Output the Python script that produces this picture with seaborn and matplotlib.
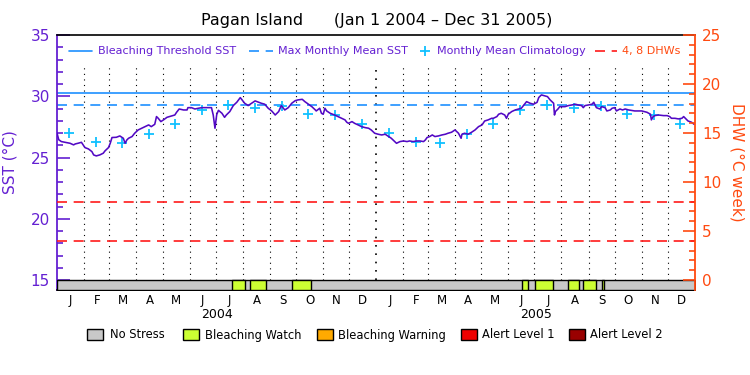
import numpy as np
import pandas as pd
import matplotlib
matplotlib.use("Agg")
import matplotlib.pyplot as plt
import matplotlib.dates as mdates
from matplotlib.lines import Line2D
from matplotlib.patches import Rectangle
from matplotlib.transforms import blended_transform_factory
import seaborn as sns

# ---------------- data ----------------
TITLE = "Pagan Island      (Jan 1 2004 \u2013 Dec 31 2005)"
START = "2004-01-01"
END = "2006-01-01"

SST_DAY = [0, 2, 5, 11, 15, 19, 21, 24, 28, 30, 32, 36, 40, 42, 45, 49, 53, 55, 59, 61,
           63, 68, 72, 76, 78, 80, 82, 86, 89, 93, 97, 101, 105, 108, 112, 114, 116, 119, 122, 126,
           131, 135, 137, 140, 145, 149, 150, 154, 158, 162, 166, 173, 177, 179, 181, 183, 185, 189, 192, 194,
           198, 202, 206, 210, 212, 215, 219, 223, 227, 231, 234, 238, 242, 246, 250, 254, 257, 261, 265, 269,
           273, 276, 281, 284, 288, 292, 296, 297, 301, 303, 305, 307, 309, 313, 318, 322, 326, 330, 332, 334,
           338, 341, 345, 349, 353, 357, 360, 364, 368, 372, 376, 380, 383, 387, 389, 393, 397, 401, 404, 408,
           412, 416, 420, 422, 424, 427, 430, 433, 437, 441, 445, 448, 452, 456, 458, 460, 463, 464, 467, 471,
           475, 479, 483, 487, 490, 494, 498, 500, 504, 506, 509, 513, 515, 517, 521, 525, 529, 532, 535, 538,
           542, 546, 550, 552, 555, 559, 562, 565, 567, 569, 570, 571, 574, 576, 582, 586, 590, 594, 597, 601,
           603, 605, 609, 613, 615, 616, 618, 622, 624, 628, 630, 634, 636, 639, 641, 645, 648, 651, 655, 662,
           670, 676, 680, 681, 683, 685, 689, 695, 699, 702, 704, 708, 712, 716, 718, 720, 723, 727, 730]
SST_VAL = [27.00, 26.45, 26.30, 26.22, 26.16, 26.03, 26.11, 26.16, 26.24, 26.03, 25.81, 25.70, 25.48, 25.21, 25.13, 25.21, 25.35, 25.54, 25.81, 26.16,
           26.63, 26.65, 26.76, 26.57, 26.16, 26.43, 26.57, 26.71, 26.98, 27.25, 27.39, 27.52, 27.66, 27.52, 27.71, 28.34, 28.20, 27.93, 28.07, 28.28,
           28.39, 28.47, 28.69, 28.96, 28.88, 28.88, 29.07, 29.07, 28.96, 29.02, 29.07, 29.07, 29.07, 28.47, 27.39, 28.50, 28.85, 28.61, 28.28, 28.47,
           28.75, 29.24, 29.51, 29.89, 29.70, 29.43, 29.24, 29.43, 29.62, 29.51, 29.43, 29.35, 29.02, 28.80, 28.47, 28.75, 29.24, 28.88, 29.07, 29.43,
           29.64, 29.70, 29.75, 29.56, 29.35, 29.15, 28.88, 28.80, 29.02, 28.61, 28.53, 29.02, 28.80, 28.61, 28.47, 28.34, 28.20, 28.07, 27.88, 27.79,
           27.93, 27.79, 27.66, 27.52, 27.44, 27.39, 27.25, 26.98, 26.90, 26.84, 26.90, 26.71, 26.57, 26.30, 26.16, 26.30, 26.35, 26.30, 26.35, 26.30,
           26.35, 26.35, 26.30, 26.43, 26.63, 26.71, 26.84, 26.71, 26.76, 26.84, 26.90, 26.98, 27.06, 27.25, 27.11, 26.98, 26.57, 26.90, 26.98, 26.90,
           27.06, 27.25, 27.52, 27.66, 27.98, 28.07, 28.20, 28.20, 28.34, 28.53, 28.61, 28.47, 28.20, 28.53, 28.75, 28.88, 28.96, 29.02, 29.29, 29.56,
           29.43, 29.35, 29.50, 29.90, 30.11, 30.03, 29.97, 29.70, 29.56, 29.43, 28.47, 28.75, 28.96, 29.15, 29.15, 29.24, 29.29, 29.35, 29.29, 29.24,
           29.07, 29.24, 29.29, 29.35, 29.51, 29.35, 29.07, 28.96, 29.15, 29.07, 28.80, 28.88, 29.02, 29.07, 28.80, 28.96, 28.88, 28.96, 28.88, 28.80,
           28.80, 28.69, 28.53, 28.07, 28.34, 28.42, 28.47, 28.42, 28.42, 28.34, 28.20, 28.20, 28.15, 28.20, 28.34, 28.20, 27.98, 27.88, 27.71]

CLIM_MONTHLY = [27.03, 26.30, 26.15, 26.93, 27.77, 28.88, 29.27, 29.07, 29.20, 28.53, 28.47, 27.74]
YEARS = [2004, 2005]

BLEACH_THRESHOLD = 30.27
MAX_MONTHLY_MEAN = 29.26
DHW_LEVELS = [4, 8]

WATCH_START = ["2004-07-20", "2004-08-09", "2004-09-26",
               "2005-06-17", "2005-07-02", "2005-08-09", "2005-08-26", "2005-09-16"]
WATCH_END = ["2004-08-03", "2004-08-27", "2004-10-18",
             "2005-06-24", "2005-07-22", "2005-08-21", "2005-09-09", "2005-09-19"]

MONTH_LABELS = ["J", "F", "M", "A", "M", "J", "J", "A", "S", "O", "N", "D"]
STRESS_LABELS = ["No Stress", "Bleaching Watch", "Bleaching Warning", "Alert Level 1", "Alert Level 2"]
STRESS_COLORS = ["#c8c8c8", "#ccff33", "#ffaa00", "#ee0000", "#990000"]

TOP_LEGEND = ["Bleaching Threshold SST", "Max Monthly Mean SST", "Monthly Mean Climatology", "4, 8 DHWs"]

# ---------------- style ----------------
PURPLE = "#6420d2"
LINE_PURPLE = "#5208c4"
BLUE = "#1e90ff"
CYAN = "#10c0ff"
ORANGE = "#ff4a10"
RED = "#ff1a1a"

sns.set_theme(style="white")
plt.rcParams['font.family'] = ['DejaVu Sans']

W, H = 750, 375
fig = plt.figure(figsize=(7.5, 3.75), dpi=100)
fig.patch.set_facecolor("white")

def fx(x):
    return x / W

def fy(y):
    return 1 - y / H

ax = fig.add_axes([fx(57), fy(290), 638 / W, 255 / H])
ax.set_facecolor("white")

t0 = pd.Timestamp(START)
t1 = pd.Timestamp(END)
sst_dates = t0 + pd.to_timedelta(SST_DAY, unit="D")
df = pd.DataFrame({"date": sst_dates, "sst": SST_VAL})

clim_dates = [pd.Timestamp(year=y, month=m + 1, day=15) for y in YEARS for m in range(12)]
clim_vals = CLIM_MONTHLY * len(YEARS)
cdf = pd.DataFrame({"date": clim_dates, "clim": clim_vals})

ybot = 15 - 10 / 12.25
ax.set_xlim(t0, t1)
ax.set_ylim(ybot, 35)

# month separators
month_starts = pd.date_range(t0, t1, freq="MS")
inner = [d for d in month_starts if d != t0 and d != t1]
for d in inner:
    lw = 1.2 if (d.month == 1) else 0.8
    ax.vlines(d, 15, 32.55, colors="black", linestyles=(0, (1, 4)), lw=lw, zorder=1)

# horizontal reference lines
ax.axhline(BLEACH_THRESHOLD, color=BLUE, lw=1.2, zorder=2)
ax.axhline(MAX_MONTHLY_MEAN, color=BLUE, lw=1.2, ls=(0, (6, 4)), zorder=2)

# climatology and SST
sns.scatterplot(data=cdf, x="date", y="clim", ax=ax, marker="+", s=50, color=CYAN,
                linewidth=1.3, zorder=3, legend=False)
sns.lineplot(data=df, x="date", y="sst", ax=ax, color=LINE_PURPLE, lw=1.15, zorder=4, legend=False)

# stress bar
x0n = mdates.date2num(t0)
x1n = mdates.date2num(t1)
ax.broken_barh([(x0n, x1n - x0n)], (ybot, 15 - ybot), facecolors=STRESS_COLORS[0],
               edgecolor="black", lw=1.0, zorder=5)
ranges = [(mdates.date2num(pd.Timestamp(s)), mdates.date2num(pd.Timestamp(e)) - mdates.date2num(pd.Timestamp(s)))
          for s, e in zip(WATCH_START, WATCH_END)]
ax.broken_barh(ranges, (ybot, 15 - ybot), facecolors=STRESS_COLORS[1],
               edgecolor="black", lw=1.0, zorder=6)

# left axis
ax.set_yticks([15, 20, 25, 30, 35])
ax.set_yticks(np.arange(15, 36, 1), minor=True)
ax.tick_params(axis="y", which="both", left=True, right=False, direction="in")
ax.tick_params(axis="y", which="major", length=9, width=1.2,
               color=PURPLE, labelcolor=PURPLE, labelsize=11, pad=5)
ax.tick_params(axis="y", which="minor", length=4.5, width=1.2, color=PURPLE)
ax.set_ylabel("SST (\u00b0C)", color=PURPLE, fontsize=11)
ax.yaxis.set_label_coords(-0.062, 0.5)

# x axis: month letters centred in each month
mids = [month_starts[i] + (month_starts[i + 1] - month_starts[i]) / 2 for i in range(len(month_starts) - 1)]
ax.set_xticks(mids)
ax.set_xticklabels(MONTH_LABELS * len(YEARS))
ax.tick_params(axis="x", which="both", length=0, labelsize=8.5, labelcolor="black", pad=3)
ax.set_xlabel("")
trans = blended_transform_factory(ax.transData, fig.transFigure)
for y in YEARS:
    mid = pd.Timestamp(year=y, month=1, day=1) + (pd.Timestamp(year=y + 1, month=1, day=1) - pd.Timestamp(year=y, month=1, day=1)) / 2
    ax.text(mid, fy(315), str(y), transform=trans, ha="center", va="center", fontsize=9, color="black")

for s in ["top", "bottom"]:
    ax.spines[s].set_color("black")
    ax.spines[s].set_linewidth(1.2)
ax.spines["left"].set_color(PURPLE)
ax.spines["left"].set_linewidth(1.3)
ax.spines["right"].set_visible(False)

# right axis (DHW)
ax2 = ax.twinx()
ax2.set_ylim(-10 / 9.8, 25)
for lvl in DHW_LEVELS:
    ax2.axhline(lvl, color=RED, lw=1.2, ls=(0, (6, 4)), zorder=2)
ax2.set_yticks([0, 5, 10, 15, 20, 25])
ax2.set_yticks(np.arange(0, 26, 1), minor=True)
ax2.tick_params(axis="y", which="both", left=False, right=True, direction="in")
ax2.tick_params(axis="y", which="major", length=9, width=1.2,
                color=ORANGE, labelcolor=ORANGE, labelsize=11, pad=5)
ax2.tick_params(axis="y", which="minor", length=4.5, width=1.2, color=ORANGE)
ax2.set_ylabel("DHW (\u00b0C week)", color=ORANGE, fontsize=11, rotation=270, va="center")
ax2.yaxis.set_label_coords(1.066, 0.5)
ax2.spines["left"].set_visible(False)
ax2.spines["top"].set_visible(False)
ax2.spines["bottom"].set_visible(False)
ax2.spines["right"].set_color(ORANGE)
ax2.spines["right"].set_linewidth(1.3)
ax2.grid(False)
ax.grid(False)

# title
fig.text(fx(377), fy(20), TITLE, ha="center", va="center", fontsize=11.5, color="black")

# top legend (inside plot)
ly = 51
fig.add_artist(Line2D([fx(69), fx(92)], [fy(ly), fy(ly)], color=BLUE, lw=1.2, transform=fig.transFigure))
fig.text(fx(98), fy(ly), TOP_LEGEND[0], ha="left", va="center", fontsize=8, color=PURPLE)
fig.add_artist(Line2D([fx(249), fx(273)], [fy(ly), fy(ly)], color=BLUE, lw=1.2, ls=(0, (6, 4)),
                      transform=fig.transFigure))
fig.text(fx(278), fy(ly), TOP_LEGEND[1], ha="left", va="center", fontsize=8, color=PURPLE)
fig.add_artist(Line2D([fx(425)], [fy(ly)], color=CYAN, marker="+", ms=7, mew=1.3, lw=0,
                      transform=fig.transFigure))
fig.text(fx(437), fy(ly), TOP_LEGEND[2], ha="left", va="center", fontsize=8, color=PURPLE)
fig.add_artist(Line2D([fx(595), fx(617)], [fy(ly), fy(ly)], color=RED, lw=1.2, ls=(0, (6, 4)),
                      transform=fig.transFigure))
fig.text(fx(622), fy(ly), TOP_LEGEND[3], ha="left", va="center", fontsize=8, color=ORANGE)

# bottom legend
patch_x = [87, 183, 317, 461, 569]
text_x = [110, 205, 338, 482, 590]
for px, tx, lab, col in zip(patch_x, text_x, STRESS_LABELS, STRESS_COLORS):
    fig.patches.append(Rectangle((fx(px), fy(340)), 16 / W, 11 / H, facecolor=col,
                                 edgecolor="black", lw=1.0, transform=fig.transFigure, figure=fig))
    fig.text(fx(tx), fy(335), lab, ha="left", va="center", fontsize=8.3, color="black")

fig.savefig("out.png", dpi=100, facecolor="white")
